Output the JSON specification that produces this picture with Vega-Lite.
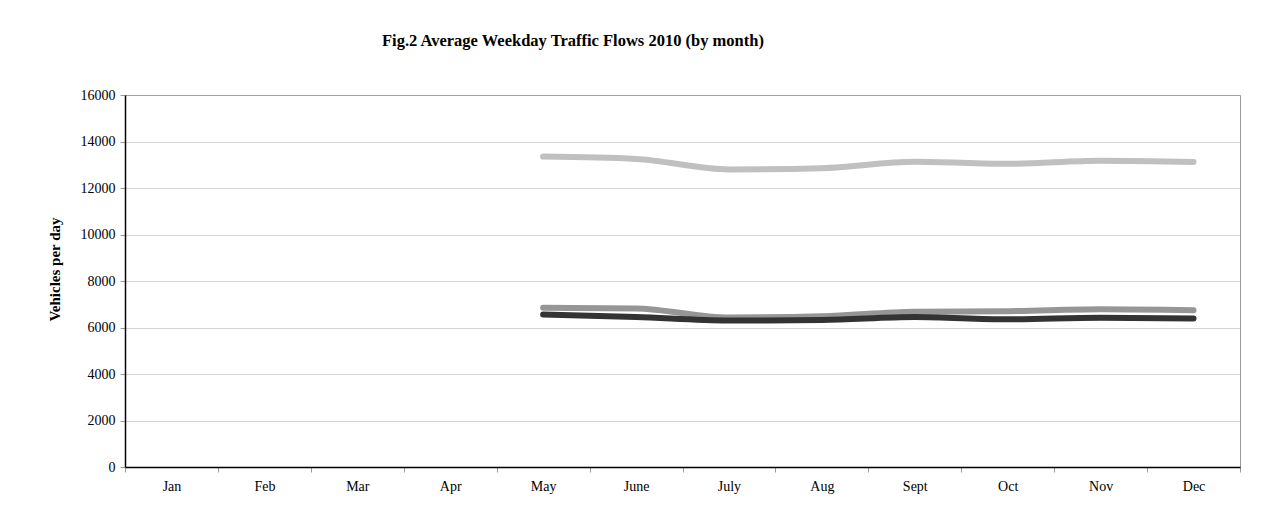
{
  "$schema": "https://vega.github.io/schema/vega-lite/v6.json",
  "autosize": "none",
  "width": 1115,
  "height": 372,
  "padding": {"left": 125, "top": 95, "right": 23, "bottom": 58},
  "background": "white",
  "title": {
    "text": "Fig.2 Average Weekday Traffic Flows 2010 (by month)",
    "anchor": "start",
    "frame": "group",
    "dx": 257,
    "offset": 39,
    "font": "Liberation Serif",
    "fontSize": 16.5,
    "fontWeight": "bold",
    "color": "black"
  },
  "config": {
    "view": {"stroke": "#9a9a9a", "strokeWidth": 1},
    "axis": {
      "labelFont": "Liberation Serif",
      "labelFontSize": 14,
      "labelColor": "black",
      "titleFont": "Liberation Serif",
      "titleFontSize": 15,
      "titleFontWeight": "bold",
      "titleColor": "black"
    }
  },
  "data": {
    "values": [
      {"month": "May", "series": "A", "vehicles": 13350},
      {"month": "June", "series": "A", "vehicles": 13250},
      {"month": "July", "series": "A", "vehicles": 12800},
      {"month": "Aug", "series": "A", "vehicles": 12850},
      {"month": "Sept", "series": "A", "vehicles": 13130},
      {"month": "Oct", "series": "A", "vehicles": 13040},
      {"month": "Nov", "series": "A", "vehicles": 13170},
      {"month": "Dec", "series": "A", "vehicles": 13120},
      {"month": "May", "series": "B", "vehicles": 6850},
      {"month": "June", "series": "B", "vehicles": 6820},
      {"month": "July", "series": "B", "vehicles": 6430},
      {"month": "Aug", "series": "B", "vehicles": 6480},
      {"month": "Sept", "series": "B", "vehicles": 6680},
      {"month": "Oct", "series": "B", "vehicles": 6700},
      {"month": "Nov", "series": "B", "vehicles": 6780},
      {"month": "Dec", "series": "B", "vehicles": 6740},
      {"month": "May", "series": "C", "vehicles": 6560},
      {"month": "June", "series": "C", "vehicles": 6450},
      {"month": "July", "series": "C", "vehicles": 6300},
      {"month": "Aug", "series": "C", "vehicles": 6320},
      {"month": "Sept", "series": "C", "vehicles": 6450},
      {"month": "Oct", "series": "C", "vehicles": 6350},
      {"month": "Nov", "series": "C", "vehicles": 6420},
      {"month": "Dec", "series": "C", "vehicles": 6390}
    ]
  },
  "mark": {"type": "line", "strokeWidth": 6, "strokeCap": "round", "strokeJoin": "round", "interpolate": "monotone"},
  "encoding": {
    "x": {
      "field": "month",
      "type": "ordinal",
      "scale": {
        "type": "band",
        "domain": ["Jan", "Feb", "Mar", "Apr", "May", "June", "July", "Aug", "Sept", "Oct", "Nov", "Dec"],
        "paddingInner": 0,
        "paddingOuter": 0
      },
      "axis": {
        "title": null,
        "labelAngle": 0,
        "tickBand": "extent",
        "tickColor": "#9a9a9a",
        "tickSize": 5,
        "domainColor": "black",
        "domainWidth": 1.5,
        "labelPadding": 7,
        "grid": false
      }
    },
    "y": {
      "field": "vehicles",
      "type": "quantitative",
      "scale": {"domain": [0, 16000], "nice": false},
      "axis": {
        "title": "Vehicles per day",
        "values": [0, 2000, 4000, 6000, 8000, 10000, 12000, 14000, 16000],
        "format": "d",
        "tickColor": "#9a9a9a",
        "tickSize": 5,
        "domainColor": "black",
        "domainWidth": 1.5,
        "labelPadding": 5,
        "titlePadding": 18,
        "titleY": 174,
        "gridColor": "#a8a8a8",
        "gridDash": [1, 1],
        "gridWidth": 1
      }
    },
    "color": {
      "field": "series",
      "type": "nominal",
      "scale": {"domain": ["A", "B", "C"], "range": ["#c0c0c0", "#969696", "#333333"]},
      "legend": null
    },
    "order": {"field": "series"}
  }
}
